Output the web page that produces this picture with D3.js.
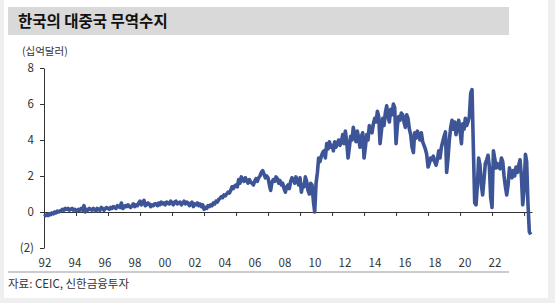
<!DOCTYPE html>
<html>
<head>
<meta charset="utf-8">
<script src="https://cdn.jsdelivr.net/npm/d3@7"></script>
<style>
  body { margin: 0; background: #efefef; }
  text { font-family: "Noto Sans CJK KR", "Noto Sans", sans-serif; }
</style>
</head>
<body>
<div id="container"></div>
<script>
// 월별 대중국 무역수지 (십억달러), 1992년 1월부터
var startYear = 1992
var balance = [
  -0.25, -0.2, -0.15, -0.2, -0.1, -0.15, -0.05, -0.1, 0.0, -0.05, 0.05, 0.0,   // 92
  0.05, 0.1, 0.15, 0.1, 0.2, 0.15, 0.2, 0.1, 0.15, 0.2, 0.1, 0.15,             // 93
  0.1, 0.05, 0.15, 0.1, 0.2, 0.1, 0.35, 0.0, 0.15, 0.1, 0.2, 0.15,             // 94
  0.1, 0.2, 0.15, 0.05, 0.2, 0.15, 0.1, 0.25, 0.2, 0.1, 0.2, 0.25,             // 95
  0.2, 0.15, 0.25, 0.2, 0.3, 0.25, 0.2, 0.35, 0.3, 0.25, 0.5, 0.2,             // 96
  0.25, 0.35, 0.3, 0.4, 0.3, 0.25, 0.35, 0.45, 0.3, 0.4, 0.35, 0.5,            // 97
  0.6, 0.4, 0.5, 0.65, 0.35, 0.4, 0.5, 0.45, 0.3, 0.4, 0.35, 0.45,             // 98
  0.45, 0.35, 0.5, 0.4, 0.55, 0.45, 0.5, 0.4, 0.55, 0.5, 0.45, 0.6,            // 99
  0.5, 0.4, 0.55, 0.6, 0.45, 0.5, 0.55, 0.4, 0.5, 0.6, 0.45, 0.55,             // 00
  0.5, 0.35, 0.45, 0.55, 0.3, 0.45, 0.4, 0.5, 0.35, 0.45, 0.3, 0.4,            // 01
  0.15, 0.25, 0.2, 0.35, 0.3, 0.4, 0.35, 0.5, 0.45, 0.6, 0.55, 0.7,            // 02
  0.75, 0.85, 0.8, 0.95, 0.9, 1.0, 1.1, 1.05, 1.2, 1.4, 1.3, 1.45,             // 03
  1.5, 1.4, 1.8, 1.6, 1.95, 1.8, 1.7, 1.9, 1.75, 1.6, 1.8, 1.65,               // 04
  1.6, 1.5, 1.7, 1.85, 1.7, 1.9, 2.0, 2.2, 2.3, 2.1, 1.9, 2.0,                 // 05
  1.9, 1.5, 1.2, 1.65, 1.8, 1.7, 1.95, 1.85, 1.6, 1.75, 1.5, 1.6,              // 06
  1.3, 1.1, 1.4, 1.5, 1.3, 1.7, 1.9, 1.8, 1.6, 1.95, 1.7, 1.5,                 // 07
  1.9, 1.1, 1.5, 1.4, 1.95, 1.7, 1.2, 1.0, 1.6, 1.5, 0.6, 0.0,                 // 08
  1.6, 2.2, 3.0, 2.8, 3.1, 3.3, 3.4, 3.0, 3.8, 3.5, 3.9, 3.6,                  // 09
  3.7, 3.4, 3.9, 3.6, 3.8, 4.0, 3.7, 3.9, 4.3, 3.8, 4.5, 3.9,                  // 10
  3.0, 3.6, 4.2, 4.0, 4.7, 4.3, 3.9, 4.5, 4.1, 3.6, 4.2, 4.4,                  // 11
  3.0, 3.6, 4.3, 4.0, 4.8, 4.5, 4.4, 4.9, 5.2, 5.0, 5.6, 5.3,                  // 12
  3.8, 4.5, 5.2, 4.8, 5.5, 5.9, 5.3, 5.0, 5.7, 5.4, 6.0, 5.8,                  // 13
  3.8, 4.8, 5.3, 5.1, 5.5, 5.4, 5.0, 4.7, 5.4, 5.2, 4.6, 4.3,                  // 14
  3.6, 3.3, 4.4, 4.1, 4.5, 4.3, 4.0, 4.4, 3.9, 3.7, 3.5, 3.2,                  // 15
  2.5, 2.7, 3.0, 2.9, 3.1, 2.8, 2.6, 2.9, 3.4, 3.0, 3.6, 3.9,                  // 16
  4.2, 4.45, 2.2, 3.0, 4.0, 4.7, 5.1, 4.6, 5.0, 4.3, 4.7, 5.1,                 // 17
  4.5, 3.8, 4.9, 4.6, 5.2, 4.8, 5.0, 5.3, 6.6, 6.8, 3.5, 0.5,                  // 18
  0.4, 1.5, 3.0, 2.6, 1.5, 0.95, 1.8, 2.7, 2.9, 3.15, 2.5, 0.8,                // 19
  0.25, 3.4, 3.0, 2.45, 2.7, 2.5, 2.4, 3.0, 2.8, 2.0, 1.4, 0.95,               // 20
  1.5, 2.45, 2.2, 1.9, 2.3, 2.0, 2.5, 2.2, 2.6, 2.9, 2.0, 0.4,                 // 21
  1.2, 3.2, 2.8, 0.4, -1.1, -1.25                                              // 22
]

var yTicks = [-2, 0, 2, 4, 6, 8]
var xLabels = ["92", "94", "96", "98", "00", "02", "04", "06", "08", "10", "12", "14", "16", "18", "20", "22"]

var title = "한국의 대중국 무역수지"
var unit = "(십억달러)"
var source = "자료: CEIC, 신한금융투자"

var width = 555, height = 303

var svg = d3.select("#container")
  .append("svg")
  .attr("width", width)
  .attr("height", height)
  .style("display", "block")

// 흰 배경 패널
svg.append("rect")
  .attr("x", 4)
  .attr("y", 0)
  .attr("width", 544)
  .attr("height", 298)
  .attr("fill", "#fff")

// 제목 띠
svg.append("rect")
  .attr("x", 8)
  .attr("y", 7)
  .attr("width", 501)
  .attr("height", 28)
  .attr("fill", "#d9d9d9")

svg.append("text")
  .text(title)
  .attr("x", 18)
  .attr("y", 27)
  .attr("font-size", 15.5)
  .attr("font-weight", "bold")
  .attr("fill", "#111")

svg.append("text")
  .text(unit)
  .attr("x", 22)
  .attr("y", 55)
  .attr("font-size", 10.5)
  .attr("fill", "#333")

// 스케일
var data = balance.map(function(v, i) {
  return { date: new Date(startYear, i, 1), value: v }
})

var x = d3.scaleTime()
  .domain([new Date(1992, 0, 1), new Date(2022, 6, 1)])
  .range([44, 532])

var y = d3.scaleLinear()
  .domain([-2, 8])
  .range([248, 68])

var xLabelScale = d3.scalePoint()
  .domain(xLabels)
  .range([45, 495])

// Y축
var yAxis = svg.append("g")
  .attr("transform", "translate(44,0)")
  .call(d3.axisLeft(y)
    .tickValues(yTicks)
    .tickSize(4)
    .tickSizeOuter(0)
    .tickPadding(6)
    .tickFormat(function(d) { return d < 0 ? "(" + (-d) + ")" : d }))

yAxis.selectAll("path, line").attr("stroke", "#333")
yAxis.selectAll("text")
  .attr("font-size", 11.5)
  .attr("fill", "#333")
  .style("font-family", "'Noto Sans CJK KR', sans-serif")

// X축 (0 기준선)
var xAxis = svg.append("g")
  .attr("transform", "translate(0," + y(0) + ")")
  .call(d3.axisBottom(x)
    .ticks(d3.timeYear.every(2))
    .tickSize(4)
    .tickSizeOuter(0)
    .tickFormat(""))

xAxis.selectAll("path, line").attr("stroke", "#333")

// X축 라벨
svg.selectAll(".x-label")
  .data(xLabels)
  .enter().append("text")
  .attr("class", "x-label")
  .attr("x", function(d) { return xLabelScale(d) })
  .attr("y", 267)
  .attr("text-anchor", "middle")
  .attr("font-size", 11.5)
  .attr("fill", "#333")
  .text(function(d) { return d })

// 선
var line = d3.line()
  .x(function(d) { return x(d.date) })
  .y(function(d) { return y(d.value) })

svg.append("path")
  .datum(data)
  .attr("d", line)
  .attr("fill", "none")
  .attr("stroke", "#3d5597")
  .attr("stroke-width", 3.6)
  .attr("stroke-linejoin", "round")

// 하단 구분선과 출처
svg.append("line")
  .attr("x1", 8)
  .attr("x2", 509)
  .attr("y1", 272)
  .attr("y2", 272)
  .attr("stroke", "#999")
  .attr("stroke-width", 1)

svg.append("text")
  .text(source)
  .attr("x", 8)
  .attr("y", 288)
  .attr("font-size", 11.5)
  .attr("fill", "#333")
</script>
</body>
</html>
